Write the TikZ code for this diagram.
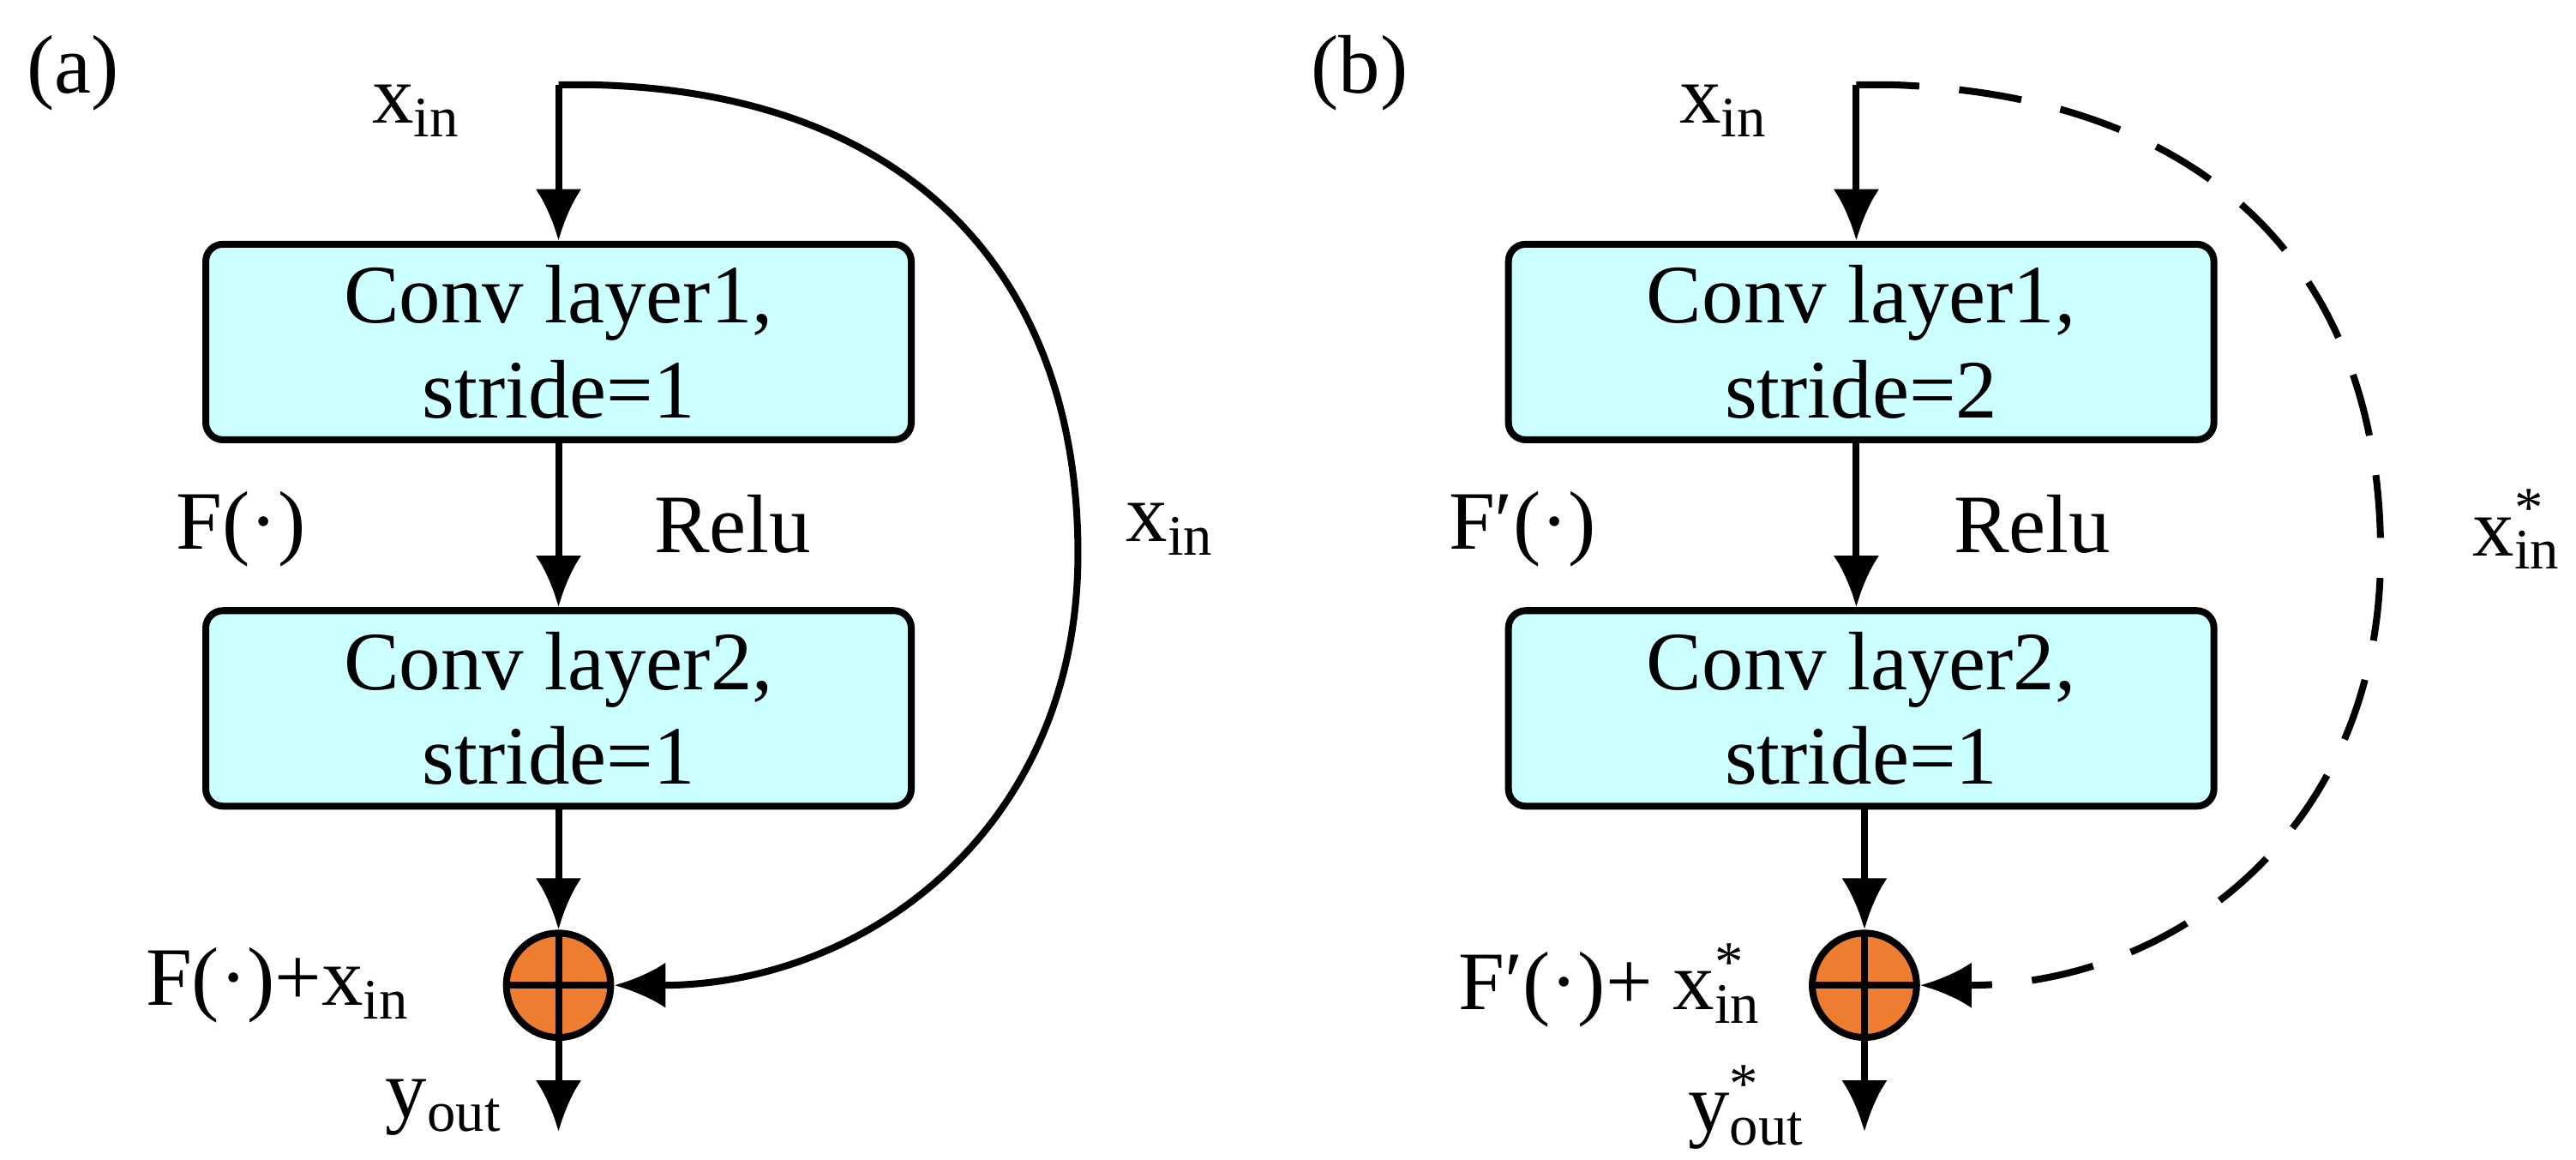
\documentclass[tikz,border=0pt]{standalone}
\usepackage{fontspec}
\setmainfont{Liberation Serif}
\usetikzlibrary{arrows.meta}
\definecolor{boxc}{RGB}{204,255,255}
\definecolor{sumc}{RGB}{237,125,49}
\begin{document}
\fontsize{14.5pt}{16.5pt}\selectfont
\begin{tikzpicture}[x=0.01cm,y=-0.01cm,line width=1.2pt,
  box/.style={draw,rounded corners=3pt,fill=boxc,minimum width=4.33cm,minimum height=1.2cm,align=center,inner sep=0pt},
  sum/.style={draw,circle,fill=sumc,minimum size=0.64cm,inner sep=0pt,
    path picture={\draw[line width=1.2pt] (path picture bounding box.north)--(path picture bounding box.south)
      (path picture bounding box.west)--(path picture bounding box.east);}},
  arr/.style={-{Latex[length=9pt,width=8pt]}},
  lbl/.style={inner sep=0pt}]
\useasboundingbox (0,0) rectangle (1582,712);
\newcommand{\xin}{x\raisebox{-0.35ex}{\fontsize{10pt}{10pt}\selectfont in}}
\newcommand{\xins}{x\raisebox{-0.35ex}{\fontsize{10pt}{10pt}\selectfont \rlap{\raisebox{1.6ex}{*}}in}}
% panel a
\coordinate (sa) at (343,52);
\node[box] (a1) at (343,210) {Conv layer1,\\stride=1};
\node[box] (a2) at (343,435) {Conv layer2,\\stride=1};
\node[sum] (pa) at (343,605) {};
\coordinate (oa) at (343,695);
\draw[arr] (sa) -- (a1);
\draw[arr] (a1) -- (a2);
\draw[arr] (a2) -- (pa);
\draw[arr] (pa) -- (oa);
\draw[arr] (sa) -- (360,52) .. controls (560,55) and (662,170) .. (662,340) .. controls (662,510) and (530,605) .. (pa.east);
\node[lbl] (la) at (45,45) {(a)};
\node[lbl] (ta1) at (255,68) {\xin};
\node[lbl] (ta2) at (148,325) {F(·)};
\node[lbl] (ta3) at (450,322) {Relu};
\node[lbl] (ta4) at (718,325) {\xin};
\node[lbl] (ta5) at (170,605) {F(·)+\xin};
\node[lbl] (ta6) at (272,680) {y\raisebox{-0.35ex}{\fontsize{10pt}{10pt}\selectfont out}};
% panel b
\coordinate (sb) at (1140,52);
\node[box] (b1) at (1143,210) {Conv layer1,\\stride=2};
\node[box] (b2) at (1143,435) {Conv layer2,\\stride=1};
\node[sum] (pb) at (1145,605) {};
\coordinate (ob) at (1145,695);
\draw[arr] (sb) -- (b1.north -| sb);
\draw[arr] (b1.south -| sb) -- (b2.north -| sb);
\draw[arr] (b2.south -| pb) -- (pb);
\draw[arr] (pb) -- (ob);
\draw[arr,dash pattern=on 11pt off 7pt] (sb) -- (1160,52) .. controls (1360,58) and (1462,170) .. (1462,340) .. controls (1462,510) and (1335,605) .. (pb.east);
\node[lbl] (lb) at (835,45) {(b)};
\node[lbl] (tb1) at (1058,68) {\xin};
\node[lbl] (tb2) at (935,325) {F′(·)};
\node[lbl] (tb3) at (1248,322) {Relu};
\node[lbl] (tb4) at (1545,325) {\xins};
\node[lbl] (tb5) at (988,605) {F′(·)+ \xins};
\node[lbl] (tb6) at (1072,680) {y\raisebox{-0.35ex}{\fontsize{10pt}{10pt}\selectfont \rlap{\raisebox{1.6ex}{*}}out}};
\end{tikzpicture}
\end{document}
